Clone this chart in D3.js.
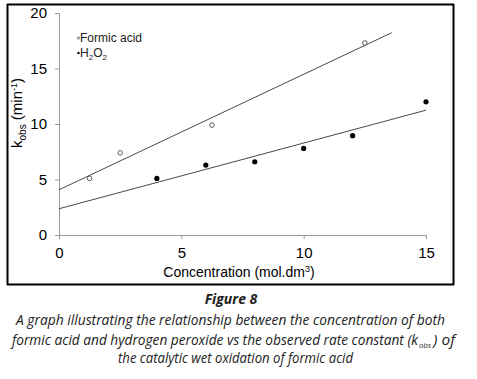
<!DOCTYPE html>
<html>
<head>
<meta charset="utf-8">
<script src="https://cdn.jsdelivr.net/npm/d3@7"></script>
<style>
  body { margin: 0; background: #fff; }
  svg { display: block; }
</style>
</head>
<body>
<div id="chart"></div>
<script>
// data
const formicConc = [1.25, 2.5, 6.25, 12.5];
const formicK = [5.1, 7.4, 9.9, 17.3];
const h2o2Conc = [4, 6, 8, 10, 12, 15];
const h2o2K = [5.1, 6.3, 6.6, 7.8, 8.95, 12.0];
const formicTrendRange = [0, 13.6];
const h2o2TrendRange = [0, 15];
const xTicks = [0, 5, 10, 15];
const yTicks = [0, 5, 10, 15, 20];
const captionTitle = "Figure 8";
const captionLines = [
	"A graph illustrating the relationship between the concentration of both",
	"formic acid and hydrogen peroxide vs the observed rate constant (k",
	"the catalytic wet oxidation of formic acid"
];

const width = 477, height = 379;
const svg = d3.select("#chart").append("svg").attr("width", width).attr("height", height);

// frame round the plot
const fg = svg.append("g").attr("class", "frame");
fg.append("line").attr("x1", 7).attr("x2", 454).attr("y1", 4.5).attr("y2", 4.5);
fg.append("line").attr("x1", 7).attr("x2", 454).attr("y1", 284.5).attr("y2", 284.5);
fg.append("line").attr("x1", 7.5).attr("x2", 7.5).attr("y1", 4).attr("y2", 285);
fg.append("line").attr("x1", 453.5).attr("x2", 453.5).attr("y1", 4).attr("y2", 285);
fg.selectAll("line").attr("stroke", "black").attr("stroke-width", 2);

const x = d3.scaleLinear().domain([0, 15]).range([59, 426]);
const y = d3.scaleLinear().domain([0, 20]).range([235, 13]);

const font = "'Liberation Sans', Arial, sans-serif";

const xAxis = svg.append("g").attr("transform", `translate(0,${y(0)})`)
	.call(d3.axisBottom(x).tickValues(xTicks).tickSize(4).tickSizeOuter(0).tickPadding(8));
const yAxis = svg.append("g").attr("transform", `translate(${x(0)},0)`)
	.call(d3.axisLeft(y).tickValues(yTicks).tickSize(4).tickSizeOuter(0).tickPadding(8));
[xAxis, yAxis].forEach(g => {
	g.select(".domain").attr("stroke", "#999");
	g.selectAll(".tick line").attr("stroke", "#999");
	g.selectAll(".tick text").attr("fill", "#000").style("font-family", font).style("font-size", "15px");
});

// least squares trendlines
function fit(xs, ys) {
	const mx = d3.mean(xs), my = d3.mean(ys);
	const sxy = d3.sum(xs, (v, i) => (v - mx) * (ys[i] - my));
	const sxx = d3.sum(xs, v => (v - mx) * (v - mx));
	const b = sxy / sxx;
	return { b: b, a: my - b * mx };
}
const line = d3.line().x(d => x(d[0])).y(d => y(d[1]));
[[formicConc, formicK, formicTrendRange], [h2o2Conc, h2o2K, h2o2TrendRange]].forEach(s => {
	const f = fit(s[0], s[1]);
	svg.append("path")
		.attr("d", line(s[2].map(v => [v, f.a + f.b * v])))
		.attr("fill", "none").attr("stroke", "#333").attr("stroke-width", 0.9);
});

// points
svg.append("g").selectAll("circle").data(d3.zip(formicConc, formicK)).join("circle")
	.attr("cx", d => x(d[0])).attr("cy", d => y(d[1])).attr("r", 2.3)
	.attr("fill", "#fff").attr("stroke", "#333").attr("stroke-width", 0.8);
svg.append("g").selectAll("circle").data(d3.zip(h2o2Conc, h2o2K)).join("circle")
	.attr("cx", d => x(d[0])).attr("cy", d => y(d[1])).attr("r", 2.6)
	.attr("fill", "#000");

// legend
const leg = svg.append("g").style("font-family", font).style("font-size", "12px").attr("fill", "#222");
leg.append("circle").attr("cx", 78.5).attr("cy", 38).attr("r", 1.2).attr("fill", "#fff").attr("stroke", "#333").attr("stroke-width", 0.6);
leg.append("text").attr("x", 80).attr("y", 42).text("Formic acid");
leg.append("circle").attr("cx", 78.5).attr("cy", 53).attr("r", 1.2).attr("fill", "#000");
const t2 = leg.append("text").attr("x", 80).attr("y", 57);
t2.append("tspan").text("H");
t2.append("tspan").attr("dy", 3).style("font-size", "8px").text("2");
t2.append("tspan").attr("dy", -3).text("O");
t2.append("tspan").attr("dy", 3).style("font-size", "8px").text("2");

// axis titles
const xt = svg.append("text").attr("x", 239).attr("y", 277).attr("text-anchor", "middle")
	.style("font-family", font).style("font-size", "14px").attr("fill", "#000");
xt.append("tspan").text("Concentration (mol.dm");
xt.append("tspan").attr("dy", -5).style("font-size", "9px").text("3");
xt.append("tspan").attr("dy", 5).text(")");

const yt = svg.append("text").attr("transform", "translate(22,113) rotate(-90)").attr("text-anchor", "middle")
	.style("font-family", font).style("font-size", "15px").attr("fill", "#000");
yt.append("tspan").text("k");
yt.append("tspan").attr("dy", 4).style("font-size", "10px").text("obs");
yt.append("tspan").attr("dy", -4).text(" (min");
yt.append("tspan").attr("dy", -5).style("font-size", "9px").text("-1");
yt.append("tspan").attr("dy", 5).text(")");

// caption
const cap = "'Open Sans', sans-serif";
svg.append("text").attr("x", 231).attr("y", 304).attr("text-anchor", "middle")
	.style("font-family", cap).style("font-size", "14px").style("font-weight", "bold").style("font-style", "italic")
	.attr("fill", "#222").text(captionTitle);
const capText = (yy, x0, len, size) => svg.append("text").attr("x", x0).attr("y", yy)
	.attr("textLength", len).attr("lengthAdjust", "spacingAndGlyphs")
	.style("font-family", cap).style("font-size", (size || 14) + "px").style("font-style", "italic").attr("fill", "#222");
capText(325, 16, 429).text(captionLines[0]);
capText(345, 12, 406).text(captionLines[1]);
capText(348, 419, 12, 8).text("obs");
capText(345, 433, 22).text(") of");
capText(363, 118, 235).text(captionLines[2]);
</script>
</body>
</html>
